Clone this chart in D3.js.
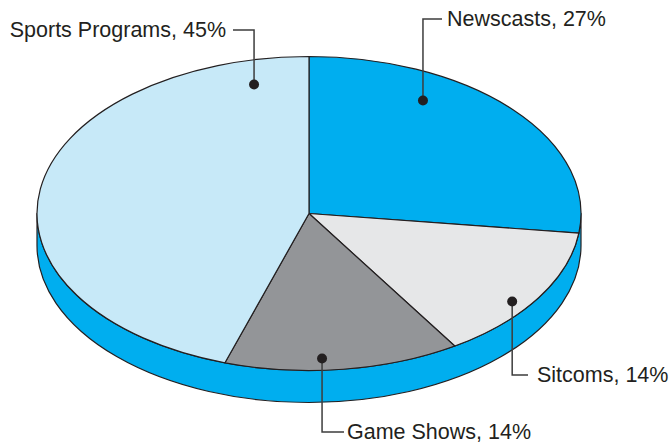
<!DOCTYPE html>
<html>
<head>
<meta charset="utf-8">
<script src="https://cdn.jsdelivr.net/npm/d3@7/dist/d3.min.js"></script>
<style>
  html, body { margin: 0; padding: 0; background: #fff; }
  svg { display: block; }
  text { font-family: "Liberation Sans", Arial, Helvetica, sans-serif; fill: #231f20; }
</style>
</head>
<body>
<svg id="chart" width="671" height="443"></svg>
<script>
// Share of viewing time by programme type
const categories = ["Newscasts", "Sitcoms", "Game Shows", "Sports Programs"];
const shares = [27, 14, 14, 45];
const sliceColors = ["#00aeef", "#e6e7e8", "#939598", "#c7e9f8"];

// Tilted-disc geometry
const cx = 309, cy = 213.5, rx = 272, ry = 157, depth = 32;
const sideColor = "#00aeef";
const ink = "#231f20";

// Callout layout: dot position as fraction of the radii, elbow and text anchor in px
const callouts = [
  { u: 0.419, v: -0.72, elbowY: 19, endX: 442, textX: 447, textY: 26, anchor: "start" },
  { u: 0.747, v: 0.560, elbowY: 375, endX: 528, textX: 537, textY: 382, anchor: "start" },
  { u: 0.048, v: 0.923, elbowY: 432, endX: 344, textX: 347, textY: 439, anchor: "start" },
  { u: -0.202, v: -0.822, elbowY: 30, endX: 233, textX: 226, textY: 37, anchor: "end" }
];

const svg = d3.select("#chart");

const pie = d3.pie().sort(null).value(d => d.value).startAngle(0).endAngle(2 * Math.PI);
const data = pie(categories.map((c, i) => ({ name: c, value: shares[i], color: sliceColors[i] })));

// Point on the top ellipse for a pie angle (0 = 12 o'clock, clockwise)
const pt = a => [cx + rx * Math.sin(a), cy - ry * Math.cos(a)];

// Side wall of the disc (front half only)
const side = d3.path();
side.moveTo(cx + rx, cy);
side.lineTo(cx + rx, cy + depth);
const sidePath = side.toString() +
  `A${rx},${ry} 0 0 1 ${cx - rx},${cy + depth}` +
  `L${cx - rx},${cy}` +
  `A${rx},${ry} 0 0 0 ${cx + rx},${cy}Z`;

svg.append("path")
  .attr("d", sidePath)
  .attr("fill", sideColor)
  .attr("stroke", ink)
  .attr("stroke-width", 1.2)
  .attr("stroke-linejoin", "round");

// Top face slices
svg.append("g").selectAll("path")
  .data(data)
  .join("path")
  .attr("d", d => {
    const p0 = pt(d.startAngle), p1 = pt(d.endAngle);
    const large = d.endAngle - d.startAngle > Math.PI ? 1 : 0;
    return `M${cx},${cy}L${p0[0]},${p0[1]}A${rx},${ry} 0 ${large} 1 ${p1[0]},${p1[1]}Z`;
  })
  .attr("fill", d => d.data.color)
  .attr("stroke", ink)
  .attr("stroke-width", 1.2)
  .attr("stroke-linejoin", "round");

// Callouts
const g = svg.append("g");
data.forEach((d, i) => {
  const c = callouts[i];
  const dx = cx + c.u * rx, dy = cy + c.v * ry;
  g.append("path")
    .attr("d", `M${dx},${dy}V${c.elbowY}H${c.endX}`)
    .attr("fill", "none")
    .attr("stroke", "#3d3d3d")
    .attr("stroke-width", 1.5);
  g.append("circle")
    .attr("cx", dx).attr("cy", dy).attr("r", 5)
    .attr("fill", ink);
  g.append("text")
    .attr("x", c.textX).attr("y", c.textY)
    .attr("text-anchor", c.anchor)
    .attr("font-size", 21.5)
    .text(`${d.data.name}, ${d.data.value}%`);
});
</script>
</body>
</html>
